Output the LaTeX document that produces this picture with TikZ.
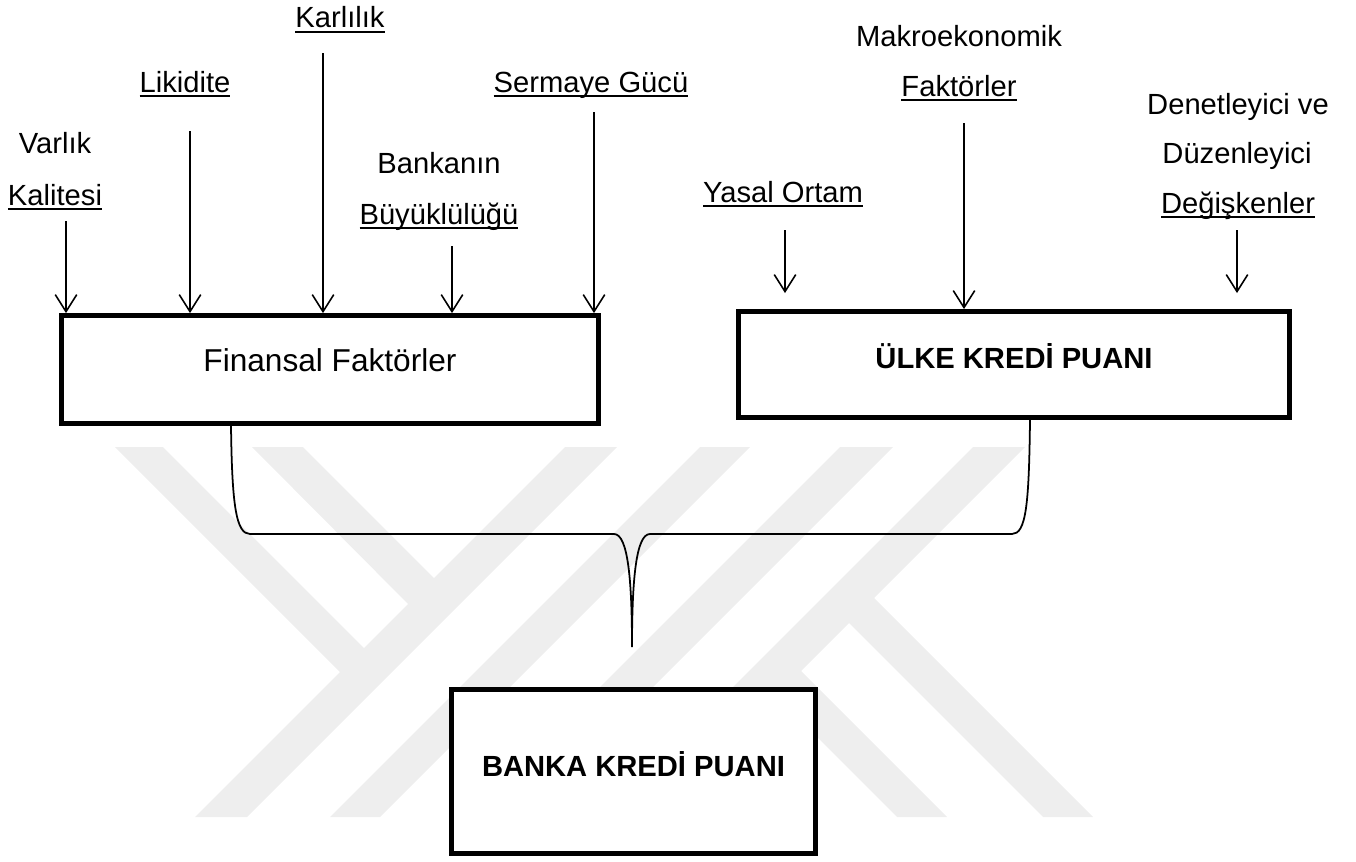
\documentclass[tikz,border=0pt]{standalone}
\usepackage{fontspec}
\setmainfont{Liberation Sans}
\usetikzlibrary{arrows.meta,calc}
\definecolor{wmark}{RGB}{238,238,238}
% underline as in the word processor: a bit lower and thicker
\newcommand\undl[1]{\setbox0\hbox{#1}\leavevmode\rlap{\rule[-2.8pt]{\wd0}{1.1pt}}\box0}
\tikzset{
  lbl/.style={font=\fontsize{16.6}{20}\selectfont, inner sep=0pt, anchor=base},
  box/.style={draw, line width=2.8pt, fill=white, inner sep=0pt},
  arr/.style={-{Straight Barb[length=0.34cm,width=0.43cm]}, line width=0.9pt},
  brace/.style={line width=1pt},
  wm/.style={fill=wmark, draw=none}
}
\begin{document}
\begin{tikzpicture}[x=0.02cm, y=-0.02cm]
        \useasboundingbox (0,0) rectangle (1356,862);
        % watermark
        \fill[wm] (195,817) -- (247,817) -- (617,447) -- (565,447) -- cycle;
        \fill[wm] (115,447) -- (163,447) -- (374,658) -- (350,682) -- cycle;
        \fill[wm] (252,447) -- (303,447) -- (444,588) -- (418,614) -- cycle;
        \fill[wm] (330,817) -- (380,817) -- (750,447) -- (700,447) -- cycle;
        \fill[wm] (840,447) -- (893,447) -- (523,817) -- (470,817) -- cycle;
        \fill[wm] (973,447) -- (1025,447) -- (655,817) -- (603,817) -- cycle;
        \fill[wm] (766,686) -- (791,661) -- (947,817) -- (897,817) -- cycle;
        \fill[wm] (839,613) -- (864,588) -- (1093,817) -- (1043,817) -- cycle;

        % boxes
        \node[box, minimum width=10.76cm, minimum height=2.15cm,
            font=\fontsize{18}{22}\selectfont, text height=12pt, text depth=9.2pt]
            (fin) at (330,369.3) {Finansal Faktörler};
        \node[box, minimum width=11.04cm, minimum height=2.12cm,
            font=\fontsize{16.6}{20}\selectfont\bfseries, text height=12pt, text depth=8pt]
            (ulke) at (1014,364.5) {ÜLKE KREDİ PUANI};
        \node[box, minimum width=7.28cm, minimum height=3.28cm,
            font=\fontsize{16.6}{20}\selectfont\bfseries, text height=11.8pt, text depth=5.6pt]
            (banka) at (633.5,771.5) {BANKA KREDİ PUANI};

        % labels
        \node[lbl] (varlik) at (55,153) {Varlık};
        \node[lbl] (kalitesi) at (55,205) {\undl{Kalitesi}};
        \node[lbl] (likidite) at (185,92) {\undl{Likidite}};
        \node[lbl] (karlilik) at (340,28) {\undl{Karlılık}};
        \node[lbl] (bankanin) at (439,173) {Bankanın};
        \node[lbl] (buyukluk) at (439,224) {\undl{Büyüklülüğü}};
        \node[lbl] (sermaye) at (591,92) {\undl{Sermaye Gücü}};
        \node[lbl] (yasal) at (783,202) {\undl{Yasal Ortam}};
        \node[lbl] (makro) at (959,47) {Makroekonomik};
        \node[lbl] (faktorler) at (959,96) {\undl{Faktörler}};
        \node[lbl] (denet) at (1238,114) {Denetleyici ve};
        \node[lbl] (duzen) at (1237,163) {Düzenleyici};
        \node[lbl] (degisken) at (1238,213) {\undl{Değişkenler}};

        % arrow starts
        \coordinate (a1) at (66,221);
        \coordinate (a2) at (190,131);
        \coordinate (a3) at (323,53);
        \coordinate (a4) at (452,246);
        \coordinate (a5) at (594,112);
        \coordinate (b1) at (785,230);
        \coordinate (b2) at (964,123);
        \coordinate (b3) at (1237,230);
        \coordinate (tip) at (632,647);

        \draw[arr] (a1) -- (a1 |- fin.north);
        \draw[arr] (a2) -- (a2 |- fin.north);
        \draw[arr] (a3) -- (a3 |- fin.north);
        \draw[arr] (a4) -- (a4 |- fin.north);
        \draw[arr] (a5) -- (a5 |- fin.north);
        \draw[arr, shorten >=0.32cm] (b1) -- (b1 |- ulke.north);
        \draw[arr] (b2) -- (b2 |- ulke.north);
        \draw[arr, shorten >=0.32cm] (b3) -- (b3 |- ulke.north);

        % brace
        \draw[brace] ($(fin.south)+(-99,0)$) .. controls (232,505) and (236,534) .. (250,534)
            -- (614,534) .. controls (628,534) and (632,580) .. (tip)
            .. controls (632,580) and (636,534) .. (650,534)
            -- (1012,534) .. controls (1026,534) and (1029,505) .. ($(ulke.south)+(16,0)$);
\end{tikzpicture}
\end{document}
